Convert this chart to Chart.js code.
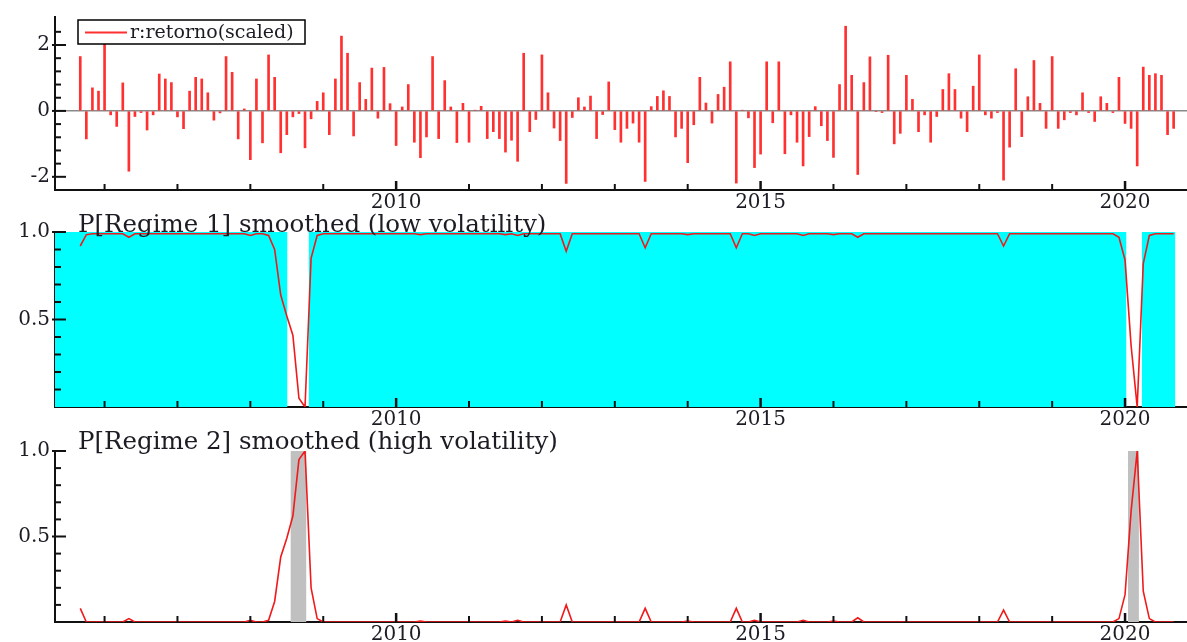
<!DOCTYPE html>
<html>
<head>
<meta charset="utf-8">
<script src="https://cdn.jsdelivr.net/npm/chart.js@4/dist/chart.umd.min.js"></script>
<style>
  html, body { margin: 0; padding: 0; background: #fff; }
  #wrap { position: relative; width: 1187px; height: 642px; overflow: hidden; }
  canvas { position: absolute; left: 0; }
</style>
</head>
<body>
<div id="wrap">
  <canvas id="retChart" width="1187" height="210" style="top:0px"></canvas>
  <canvas id="reg1Chart" width="1187" height="217" style="top:210px"></canvas>
  <canvas id="reg2Chart" width="1187" height="215" style="top:427px"></canvas>
</div>
<script>
// monthly data, Sep 2005 .. Sep 2020
var startYear = 2005;
var startMonth = 9;

var returns = [
  1.65, -0.85, 0.70, 0.60,
  2.03, -0.12, -0.47, 0.85, -1.83, -0.17, -0.05, -0.58, -0.12, 1.12, 0.97, 0.86,
  -0.18, -0.54, 0.60, 1.02, 0.97, 0.55, -0.28, -0.06, 1.65, 1.17, -0.85, 0.06,
  -1.48, 0.97, -0.97, 1.70, 1.02, -1.27, -0.72, -0.18, -0.08, -1.12, -0.24, 0.29,
  0.55, -0.72, 0.97, 2.27, 1.75, -0.76, 0.86, 0.35, 1.30, -0.22, 1.32, 0.22,
  -1.05, 0.12, 0.80, -0.95, -1.42, -0.79, 1.65, -0.84, 0.92, 0.12, -0.96, 0.23,
  -0.95, 0.02, 0.14, -0.84, -0.63, -0.84, -1.25, -0.89, -1.53, 1.75, -0.63, -0.26,
  1.70, 0.55, -0.52, -0.90, -2.20, -0.20, 0.40, 0.12, 0.45, -0.84, -0.11, 0.88,
  -0.57, -0.95, -0.53, -0.37, -0.95, -2.14, 0.13, 0.44, 0.61, 0.44, -0.79, -0.53,
  -1.57, -0.42, 1.02, 0.24, -0.37, 0.50, 0.72, 1.49, -2.19, 0.02, -0.21, -1.72,
  -1.31, 1.49, -0.36, 1.49, -1.30, -0.12, -0.95, -1.67, -0.78, 0.13, -0.45, -0.90,
  -1.41, 0.80, 2.57, 1.08, -1.93, 0.86, 1.64, -0.02, -0.05, 1.69, -1.00, -0.68,
  1.08, 0.35, -0.63, -0.12, -0.95, -0.17, 0.65, 1.13, 0.65, -0.22, -0.63, 0.75,
  1.70, -0.12, -0.22, -0.05, -2.10, -1.10, 1.28, -0.78, 0.43, 1.53, 0.23, -0.53,
  1.65, -0.53, -0.27, -0.05, -0.12, 0.55, -0.05, -0.32, 0.43, 0.23, -0.05, 1.02,
  -0.38, -0.53, -1.67, 1.33, 1.08, 1.13, 1.08, -0.72, -0.53
];

var probRegime1 = [
  0.92, 0.985, 0.99, 0.99,
  0.99, 0.99, 0.99, 0.99, 0.97, 0.99, 0.99, 0.99, 0.99, 0.99, 0.99, 0.99,
  0.99, 0.99, 0.99, 0.99, 0.99, 0.99, 0.99, 0.99, 0.99, 0.99, 0.99, 0.99,
  0.98, 0.99, 0.99, 0.98, 0.90, 0.64, 0.52, 0.41, 0.05, 0.00, 0.85, 0.98,
  0.99, 0.99, 0.99, 0.99, 0.99, 0.99, 0.99, 0.99, 0.99, 0.99, 0.99, 0.99,
  0.99, 0.99, 0.99, 0.99, 0.985, 0.99, 0.99, 0.99, 0.99, 0.99, 0.99, 0.99,
  0.99, 0.99, 0.99, 0.99, 0.99, 0.99, 0.985, 0.99, 0.98, 0.99, 0.99, 0.99,
  0.99, 0.99, 0.99, 0.99, 0.89, 0.99, 0.99, 0.99, 0.99, 0.99, 0.99, 0.99,
  0.99, 0.99, 0.99, 0.99, 0.99, 0.91, 0.99, 0.99, 0.99, 0.99, 0.99, 0.99,
  0.985, 0.99, 0.99, 0.99, 0.99, 0.99, 0.99, 0.99, 0.91, 0.99, 0.99, 0.98,
  0.99, 0.99, 0.99, 0.99, 0.99, 0.99, 0.99, 0.98, 0.99, 0.99, 0.99, 0.99,
  0.985, 0.99, 0.99, 0.99, 0.97, 0.99, 0.99, 0.99, 0.99, 0.99, 0.99, 0.99,
  0.99, 0.99, 0.99, 0.99, 0.99, 0.99, 0.99, 0.99, 0.99, 0.99, 0.99, 0.99,
  0.99, 0.99, 0.99, 0.99, 0.92, 0.99, 0.99, 0.99, 0.99, 0.99, 0.99, 0.99,
  0.99, 0.99, 0.99, 0.99, 0.99, 0.99, 0.99, 0.99, 0.99, 0.99, 0.99, 0.97,
  0.84, 0.35, 0.00, 0.82, 0.98, 0.99, 0.99, 0.99, 0.99
];

var probRegime2 = [
  0.08, 0.00, 0.00, 0.00,
  0.00, 0.00, 0.00, 0.00, 0.02, 0.00, 0.00, 0.00, 0.00, 0.00, 0.00, 0.00,
  0.00, 0.00, 0.00, 0.00, 0.00, 0.00, 0.00, 0.00, 0.00, 0.00, 0.00, 0.00,
  0.01, 0.00, 0.00, 0.01, 0.12, 0.38, 0.49, 0.62, 0.95, 1.00, 0.20, 0.02,
  0.00, 0.00, 0.00, 0.00, 0.00, 0.00, 0.00, 0.00, 0.00, 0.00, 0.00, 0.00,
  0.00, 0.00, 0.00, 0.00, 0.005, 0.00, 0.00, 0.00, 0.00, 0.00, 0.00, 0.00,
  0.00, 0.00, 0.00, 0.00, 0.00, 0.00, 0.005, 0.00, 0.01, 0.00, 0.00, 0.00,
  0.00, 0.00, 0.00, 0.00, 0.10, 0.00, 0.00, 0.00, 0.00, 0.00, 0.00, 0.00,
  0.00, 0.00, 0.00, 0.00, 0.00, 0.08, 0.00, 0.00, 0.00, 0.00, 0.00, 0.00,
  0.005, 0.00, 0.00, 0.00, 0.00, 0.00, 0.00, 0.00, 0.08, 0.00, 0.00, 0.01,
  0.00, 0.00, 0.00, 0.00, 0.00, 0.00, 0.00, 0.01, 0.00, 0.00, 0.00, 0.00,
  0.005, 0.00, 0.00, 0.00, 0.025, 0.00, 0.00, 0.00, 0.00, 0.00, 0.00, 0.00,
  0.00, 0.00, 0.00, 0.00, 0.00, 0.00, 0.00, 0.00, 0.00, 0.00, 0.00, 0.00,
  0.00, 0.00, 0.00, 0.00, 0.07, 0.00, 0.00, 0.00, 0.00, 0.00, 0.00, 0.00,
  0.00, 0.00, 0.00, 0.00, 0.00, 0.00, 0.00, 0.00, 0.00, 0.00, 0.00, 0.02,
  0.16, 0.65, 1.00, 0.18, 0.02, 0.00, 0.00, 0.00, 0.00
];

// classified periods (decimal years)
var regime1Spans = [[2005.32, 2008.51], [2008.80, 2020.02], [2020.23, 2020.69]];
var regime2Spans = [[2008.55, 2008.77], [2020.04, 2020.19]];

var yearTicks = [2006, 2007, 2008, 2009, 2010, 2011, 2012, 2013, 2014, 2015, 2016, 2017, 2018, 2019, 2020];
var yearLabels = [2010, 2015, 2020];
var retTicks = [-2, 0, 2];
var retMinorTicks = [-2, -1.6, -1.2, -0.8, -0.4, 0, 0.4, 0.8, 1.2, 1.6, 2, 2.4];
var probTicks = [0, 0.5, 1];
var probMinorTicks = [0.1, 0.2, 0.3, 0.4, 0.5, 0.6, 0.7, 0.8, 0.9, 1];

var xMin = 2005.32;
var xMax = 2020.85;

var FONT = '"DejaVu Serif", "Liberation Serif", serif';
var TEXT = '#1c1c24';

function monthX(i) {
  return startYear + (startMonth - 1 + i) / 12;
}

function toPoints(values) {
  return values.map(function(v, i) { return { x: monthX(i), y: v }; });
}

function spanPoints(spans) {
  var pts = [];
  spans.forEach(function(s) {
    pts.push({ x: s[0], y: 1 }, { x: s[1], y: 1 }, { x: s[1], y: null });
  });
  return pts;
}

// tick marks drawn inside the plot, like the original
var inwardTicks = {
  id: "inwardTicks",
  afterDraw: function(chart, args, opts) {
    var ctx = chart.ctx;
    var area = chart.chartArea;
    var xs = chart.scales.x;
    var ys = chart.scales.y;
    ctx.save();
    ctx.strokeStyle = "#111";
    yearTicks.forEach(function(v) {
      var px = xs.getPixelForValue(v);
      var major = yearLabels.indexOf(v) >= 0;
      ctx.lineWidth = major ? 2.5 : 2;
      ctx.beginPath();
      ctx.moveTo(px, area.bottom);
      ctx.lineTo(px, area.bottom - (major ? 9 : 6));
      ctx.stroke();
    });
    opts.minor.forEach(function(v) {
      var py = ys.getPixelForValue(v);
      var major = opts.major.indexOf(v) >= 0;
      ctx.lineWidth = 2;
      ctx.beginPath();
      ctx.moveTo(area.left - (major ? 3 : 0), py);
      ctx.lineTo(area.left + (major ? 11 : 6), py);
      ctx.stroke();
    });
    ctx.restore();
  }
};

var panelTitle = {
  id: "panelTitle",
  afterDraw: function(chart, args, opts) {
    if (!opts.text) return;
    var ctx = chart.ctx;
    var area = chart.chartArea;
    ctx.save();
    ctx.font = "24.5px " + FONT;
    ctx.fillStyle = TEXT;
    ctx.textBaseline = "alphabetic";
    ctx.fillText(opts.text, area.left + 23, area.top + opts.dy);
    ctx.restore();
  }
};

// boxed legend in the top-left corner of the returns panel
var boxLegend = {
  id: "boxLegend",
  afterDraw: function(chart, args, opts) {
    if (!opts.show) return;
    var ctx = chart.ctx;
    var area = chart.chartArea;
    var ds = chart.data.datasets[0];
    var x = area.left + 23, y = area.top + 3;
    ctx.save();
    ctx.fillStyle = "#fff";
    ctx.fillRect(x, y, 227, 24);
    ctx.strokeStyle = "#000";
    ctx.lineWidth = 1.5;
    ctx.strokeRect(x, y, 227, 24);
    ctx.strokeStyle = ds.backgroundColor;
    ctx.lineWidth = 2;
    ctx.beginPath();
    ctx.moveTo(x + 7, y + 12.5);
    ctx.lineTo(x + 49, y + 12.5);
    ctx.stroke();
    ctx.font = "19px " + FONT;
    ctx.fillStyle = TEXT;
    ctx.textBaseline = "alphabetic";
    ctx.fillText(ds.label, x + 52, y + 18);
    ctx.restore();
  }
};

function xAxis() {
  return {
    type: "linear",
    min: xMin,
    max: xMax,
    offset: false,
    afterFit: function(scale) { scale.height = 20; },
    afterBuildTicks: function(scale) {
      scale.ticks = yearTicks.map(function(v) { return { value: v }; });
    },
    ticks: {
      autoSkip: false,
      maxRotation: 0,
      padding: 1,
      color: TEXT,
      font: { family: FONT, size: 20 },
      callback: function(v) { return yearLabels.indexOf(v) >= 0 ? String(v) : ""; }
    },
    grid: { display: false, drawTicks: false, offset: false },
    border: { display: true, color: "#111", width: 2 }
  };
}

function yAxis(min, max, ticks, fmt, zeroLine) {
  return {
    min: min,
    max: max,
    afterFit: function(scale) { scale.width = 55; },
    afterBuildTicks: function(scale) {
      scale.ticks = ticks.map(function(v) { return { value: v }; });
    },
    ticks: {
      padding: 5,
      color: TEXT,
      font: { family: FONT, size: 20 },
      callback: fmt
    },
    grid: {
      display: zeroLine,
      drawTicks: false,
      lineWidth: 1.5,
      color: function(c) { return c.tick && c.tick.value === 0 ? "#8a8a8a" : "rgba(0,0,0,0)"; }
    },
    border: { display: true, color: "#111", width: 2 }
  };
}

function probChart(canvasId, probs, spans, shade, title, top, dy) {
  var ctx = document.getElementById(canvasId).getContext("2d");
  return new Chart(ctx, {
    type: "line",
    data: {
      datasets: [
        {
          label: title,
          data: toPoints(probs),
          borderColor: "#f01a1a",
          borderWidth: 1.6,
          pointRadius: 0,
          tension: 0,
          fill: false,
          order: 0
        },
        {
          label: "shade",
          data: spanPoints(spans),
          backgroundColor: shade,
          borderWidth: 0,
          pointRadius: 0,
          fill: "origin",
          spanGaps: false,
          order: 1
        }
      ]
    },
    options: {
      responsive: false,
      animation: false,
      devicePixelRatio: 1,
      layout: { padding: { top: top, left: 0, right: 0, bottom: 0 } },
      scales: {
        x: xAxis(),
        y: yAxis(0, 1, probTicks, function(v) { return v === 0 ? "" : v.toFixed(1); }, false)
      },
      plugins: {
        legend: { display: false },
        tooltip: { enabled: false },
        inwardTicks: { major: [0.5, 1], minor: probMinorTicks },
        panelTitle: { text: title, dy: dy },
        boxLegend: { show: false }
      }
    },
    plugins: [inwardTicks, panelTitle, boxLegend]
  });
}

window.onload = function() {
  var retCtx = document.getElementById("retChart").getContext("2d");
  window.retChart = new Chart(retCtx, {
    type: "bar",
    data: {
      datasets: [
        {
          label: "r:retorno(scaled)",
          data: toPoints(returns),
          backgroundColor: "#ff3030",
          borderWidth: 0,
          barThickness: 2
        }
      ]
    },
    options: {
      responsive: false,
      animation: false,
      devicePixelRatio: 1,
      layout: { padding: { top: 15, left: 0, right: 0, bottom: 0 } },
      scales: {
        x: xAxis(),
        y: yAxis(-2.4, 2.85, retTicks, function(v) { return String(v); }, true)
      },
      plugins: {
        legend: { display: false },
        tooltip: { enabled: false },
        inwardTicks: { major: retTicks, minor: retMinorTicks },
        panelTitle: { text: "" },
        boxLegend: { show: true }
      }
    },
    plugins: [inwardTicks, panelTitle, boxLegend]
  });

  window.reg1Chart = probChart("reg1Chart", probRegime1, regime1Spans, "#00ffff",
    "P[Regime 1] smoothed (low volatility)", 22, 0);
  window.reg2Chart = probChart("reg2Chart", probRegime2, regime2Spans, "#c0c0c0",
    "P[Regime 2] smoothed (high volatility)", 24, -2);
};
</script>
</body>
</html>
